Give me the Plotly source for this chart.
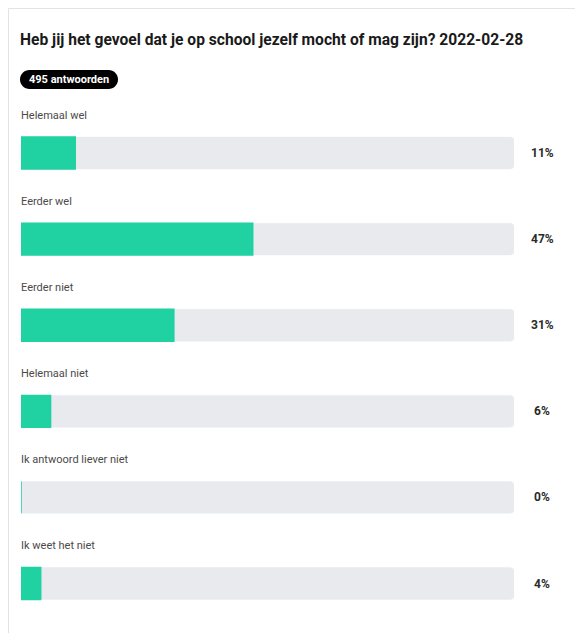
import plotly.graph_objects as go

# Survey data
question = "Heb jij het gevoel dat je op school jezelf mocht of mag zijn? 2022-02-28"
responses = 495
answers = [
    "Helemaal wel",
    "Eerder wel",
    "Eerder niet",
    "Helemaal niet",
    "Ik antwoord liever niet",
    "Ik weet het niet",
]
percentages = [11, 47, 31, 6, 0, 4]

W, H = 575, 633
PLOT_L, PLOT_R = 21, 514
PLOT_T, PLOT_B = 110, 630

FONT = "Roboto, sans-serif"
GREEN = "#20d1a2"
TRACK = "#e8eaed"
TEXT = "#2a2a2a"


def px_x(px):
    return (px - PLOT_L) / (PLOT_R - PLOT_L)


def px_y(py):
    return (PLOT_B - py) / (PLOT_B - PLOT_T)


fig = go.Figure()

# full-width grey track behind every answer
fig.add_trace(go.Bar(
    y=answers, x=[100] * len(answers), orientation="h",
    marker=dict(color=TRACK, cornerradius=4), width=0.37,
    hoverinfo="skip", showlegend=False,
))
# answer share
fig.add_trace(go.Bar(
    y=answers, x=percentages, orientation="h",
    marker=dict(color=GREEN, cornerradius=4, line=dict(color=GREEN, width=1.5)),
    width=0.37, showlegend=False,
    hovertemplate="%{y}: %{x}%<extra></extra>",
))

annotations = []
for ans, pct in zip(answers, percentages):
    annotations.append(dict(
        x=0, y=ans, xref="x", yref="y", text=ans, showarrow=False,
        xanchor="left", yanchor="middle", yshift=38, xshift=-2,
        font=dict(family=FONT, size=11, color="#4a4a4a"),
    ))
    annotations.append(dict(
        x=1, y=ans, xref="paper", yref="y", text=f"<b>{pct}%</b>",
        showarrow=False, xanchor="center", yanchor="middle", xshift=28,
        font=dict(family=FONT, size=12, color=TEXT),
    ))

# heading and response count badge
annotations.append(dict(
    x=px_x(20), y=px_y(40), xref="paper", yref="paper",
    text=f"<b>{question}</b>", showarrow=False,
    xanchor="left", yanchor="middle", xshift=-2,
    font=dict(family=FONT, size=15.6, color="#1a1a1a"),
))
annotations.append(dict(
    x=px_x(69), y=px_y(79.5), xref="paper", yref="paper",
    text=f"<b>{responses} antwoorden</b>", showarrow=False,
    xanchor="center", yanchor="middle",
    font=dict(family=FONT, size=11, color="white"),
))

# pill shape behind the badge
bx0, bx1, by0, by1 = 20, 118, 70, 89
r = (by1 - by0) / 2
k = 0.5523 * r


def P(x, y):
    return f"{px_x(x):.5f},{px_y(y):.5f}"


pill = (
    f"M{P(bx0 + r, by0)} L{P(bx1 - r, by0)} "
    f"C{P(bx1 - r + k, by0)} {P(bx1, by0 + r - k)} {P(bx1, by0 + r)} "
    f"C{P(bx1, by0 + r + k)} {P(bx1 - r + k, by1)} {P(bx1 - r, by1)} "
    f"L{P(bx0 + r, by1)} "
    f"C{P(bx0 + r - k, by1)} {P(bx0, by0 + r + k)} {P(bx0, by0 + r)} "
    f"C{P(bx0, by0 + r - k)} {P(bx0 + r - k, by0)} {P(bx0 + r, by0)} Z"
)

shapes = [
    # card outline
    dict(type="rect", xref="paper", yref="paper",
         x0=px_x(8.5), x1=px_x(590), y0=px_y(640), y1=px_y(8.5),
         line=dict(color="#e3e3e3", width=1), fillcolor="rgba(0,0,0,0)",
         layer="below"),
    dict(type="path", xref="paper", yref="paper", path=pill,
         fillcolor="black", line=dict(width=0), layer="below"),
]

fig.update_layout(
    width=W, height=H,
    margin=dict(l=PLOT_L, r=W - PLOT_R, t=PLOT_T, b=H - PLOT_B, pad=0),
    paper_bgcolor="white", plot_bgcolor="white",
    barmode="overlay",
    xaxis=dict(range=[0, 100], visible=False, fixedrange=True),
    yaxis=dict(autorange="reversed", visible=False, fixedrange=True),
    annotations=annotations, shapes=shapes,
    font=dict(family=FONT),
)

fig.write_html("out.html", config={"displayModeBar": False})
